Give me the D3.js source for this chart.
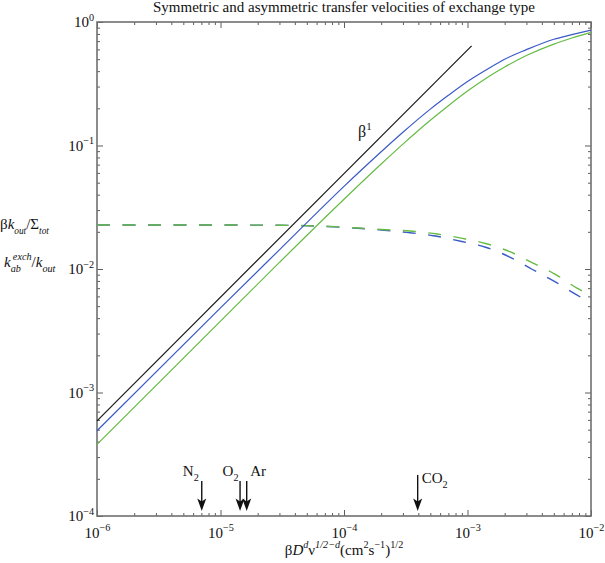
<!DOCTYPE html>
<html>
<head>
<meta charset="utf-8">
<script src="https://cdn.jsdelivr.net/npm/d3@7"></script>
<style>
  body { margin: 0; background: #fff; }
  svg { font-family: "Liberation Serif", "DejaVu Serif", serif; }
</style>
</head>
<body>
<svg id="chart" width="605" height="563"></svg>
<script>
// values (x: beta D^d nu^(1/2-d), y: transfer velocity ratio)
var beta1 = [[1e-6, 5.9e-4], [1.08e-3, 0.64]];

var blueSolid = [
  [1e-6, 4.9e-4], [1e-5, 4.85e-3], [3e-5, 0.0143], [1e-4, 0.0467], [2e-4, 0.089],
  [3e-4, 0.128], [5e-4, 0.197], [7e-4, 0.255], [1e-3, 0.33], [1.5e-3, 0.424],
  [2e-3, 0.50], [3e-3, 0.597], [5e-3, 0.725], [7e-3, 0.79], [1e-2, 0.86]
];
var greenSolid = [
  [1e-6, 3.8e-4], [1e-5, 3.78e-3], [3e-5, 0.0113], [1e-4, 0.0367], [2e-4, 0.0708],
  [3e-4, 0.1026], [5e-4, 0.16], [7e-4, 0.21], [1e-3, 0.276], [1.5e-3, 0.364],
  [2e-3, 0.432], [3e-3, 0.535], [5e-3, 0.662], [7e-3, 0.742], [1e-2, 0.825]
];
var blueDashed = [
  [1e-6, 0.0227], [1e-5, 0.0227], [3e-5, 0.0226], [7e-5, 0.0221], [1.2e-4, 0.0215],
  [2e-4, 0.0207], [3.2e-4, 0.0198], [5.3e-4, 0.0186], [9e-4, 0.0167], [1.4e-3, 0.0150],
  [2.2e-3, 0.0125], [3.3e-3, 0.0100], [5.1e-3, 0.0079], [7.6e-3, 0.0062], [1e-2, 0.0053]
];
var greenDashed = [
  [1e-6, 0.0227], [1e-5, 0.0227], [3e-5, 0.0226], [7e-5, 0.0222], [1.2e-4, 0.0216],
  [2e-4, 0.0209], [3.4e-4, 0.0203], [5.7e-4, 0.0192], [9.1e-4, 0.0177], [1.4e-3, 0.0161],
  [2.2e-3, 0.0138], [3.3e-3, 0.0113], [5.1e-3, 0.0091], [7.7e-3, 0.0070], [1e-2, 0.0061]
];

// gases marked with arrows on the x axis
var gasNames = ['N2', 'O2', 'Ar', 'CO2'];
var gasValues = [7.05e-6, 1.44e-5, 1.63e-5, 3.95e-4];

var xTickExps = [-6, -5, -4, -3, -2];
var yTickExps = [-4, -3, -2, -1, 0];

// layout
var margin = {top: 22, left: 97};
var size = 494;

var svg = d3.select('#chart');
svg.append('rect').attr('width', 605).attr('height', 563).attr('fill', '#fff');

var x = d3.scaleLog().domain([1e-6, 1e-2]).range([margin.left, margin.left + size]);
var y = d3.scaleLog().domain([1e-4, 1]).range([margin.top + size, margin.top]);

var majorX = xTickExps.map(function(e) { return Math.pow(10, e); });
var majorY = yTickExps.map(function(e) { return Math.pow(10, e); });
function minors(lo, hi) {
  var out = [];
  for (var e = lo; e < hi; e++) {
    for (var k = 2; k <= 9; k++) out.push(k * Math.pow(10, e));
  }
  return out;
}
var minorX = minors(-6, -2);
var minorY = minors(-4, 0);

// text with sub/superscripts; parts = [text, 'n'|'sub'|'sup', italic, dx]
// (no dy on a tspan unless it moves, so the parent's dy still applies)
function rich(sel, parts, fs, small) {
  var base = 0;
  small = small || 0.68;
  sel.attr('font-size', fs);
  parts.forEach(function(p) {
    var shift = p[1] === 'sup' ? -0.45 * fs : (p[1] === 'sub' ? 0.32 * fs : 0);
    sel.append('tspan')
      .attr('dy', shift - base !== 0 ? shift - base : null)
      .attr('dx', p[3] || null)
      .attr('font-size', p[1] === 'n' ? fs : fs * small)
      .attr('font-style', p[2] ? 'italic' : null)
      .text(p[0]);
    base = shift;
  });
}

function drawAxis(axis, transform) {
  var g = svg.append('g').attr('transform', transform).call(axis);
  g.select('.domain').remove();
  g.selectAll('.tick line').attr('stroke', '#333').attr('stroke-width', 0.8);
  return g;
}

// minor ticks (inward) on all four sides
drawAxis(d3.axisBottom(x).tickValues(minorX).tickSize(-3).tickFormat(''), 'translate(0,' + (margin.top + size) + ')');
drawAxis(d3.axisTop(x).tickValues(minorX).tickSize(-3).tickFormat(''), 'translate(0,' + margin.top + ')');
drawAxis(d3.axisLeft(y).tickValues(minorY).tickSize(-3).tickFormat(''), 'translate(' + margin.left + ',0)');
drawAxis(d3.axisRight(y).tickValues(minorY).tickSize(-3).tickFormat(''), 'translate(' + (margin.left + size) + ',0)');

// major ticks
var gx = drawAxis(d3.axisBottom(x).tickValues(majorX).tickSize(-6).tickPadding(11), 'translate(0,' + (margin.top + size) + ')');
drawAxis(d3.axisTop(x).tickValues(majorX).tickSize(-6).tickFormat(''), 'translate(0,' + margin.top + ')');
var gy = drawAxis(d3.axisLeft(y).tickValues(majorY).tickSize(-6).tickPadding(3), 'translate(' + margin.left + ',0)');
drawAxis(d3.axisRight(y).tickValues(majorY).tickSize(-6).tickFormat(''), 'translate(' + (margin.left + size) + ',0)');

function powerLabels(g) {
  g.attr('font-family', '"Liberation Serif", serif').attr('font-size', 15);
  g.selectAll('.tick text')
    .attr('fill', '#111')
    .each(function(d) {
      var t = d3.select(this).text('');
      var e = Math.round(Math.log10(d));
      rich(t, [['10', 'n'], [e < 0 ? '\u2212' + (-e) : String(e), 'sup']], 15);
    });
}
powerLabels(gx);
powerLabels(gy);

// frame
svg.append('rect')
  .attr('x', margin.left).attr('y', margin.top)
  .attr('width', size).attr('height', size)
  .attr('fill', 'none').attr('stroke', '#707070').attr('stroke-width', 1.6);

// curves
var line = d3.line()
  .x(function(d) { return x(d[0]); })
  .y(function(d) { return y(d[1]); })
  .curve(d3.curveMonotoneX);

var plot = svg.append('g');
function curve(data, color, dashed) {
  plot.append('path')
    .datum(data)
    .attr('d', line)
    .attr('fill', 'none')
    .attr('stroke', color)
    .attr('stroke-width', dashed ? 1.4 : 1.2)
    .attr('stroke-dasharray', dashed ? '13,12.5' : null);
}
curve(blueDashed, '#3a5ac6', true);
curve(greenDashed, '#66bb44', true);
curve(beta1, '#1a1a1a', false);
curve(blueSolid, '#3a5ac6', false);
curve(greenSolid, '#66bb44', false);

// beta^1 label
var bl = svg.append('text').attr('x', 358).attr('y', 137).attr('fill', '#111');
rich(bl, [['\u03b2', 'n'], ['1', 'sup']], 16);

// arrows for gases
var arrowTip = 1.1e-4, arrowTop = 1.92e-4, co2Top = 2.15e-4;
var arrows = svg.append('g');
gasNames.forEach(function(name, i) {
  var ax = x(gasValues[i]);
  var top = y(name === 'CO2' ? co2Top : arrowTop);
  var tip = y(arrowTip);
  arrows.append('line')
    .attr('x1', ax).attr('x2', ax).attr('y1', top).attr('y2', tip - 8)
    .attr('stroke', '#111').attr('stroke-width', 1.4);
  arrows.append('path')
    .attr('d', 'M' + ax + ',' + tip + 'l-4.5,-12.5l4.5,3l4.5,-3z')
    .attr('fill', '#111');
});

function gasLabel(name, lx, ly, anchor) {
  var t = svg.append('text').attr('x', lx).attr('y', ly)
    .attr('text-anchor', anchor).attr('fill', '#111');
  var sym = name.replace(/\d/g, '');
  var num = name.replace(/\D/g, '');
  var parts = [[sym, 'n']];
  if (num) parts.push([num, 'sub']);
  rich(t, parts, 15);
}
gasLabel('N2', x(gasValues[0]) - 3, 476, 'end');
gasLabel('O2', x(gasValues[1]) - 1.5, 476, 'end');
gasLabel('Ar', x(gasValues[2]) + 3.5, 476, 'start');
gasLabel('CO2', x(gasValues[3]) + 4, 483, 'start');

// title
svg.append('text')
  .attr('x', margin.left + size / 2).attr('y', 12)
  .attr('text-anchor', 'middle').attr('font-size', 15).attr('fill', '#111')
  .text('Symmetric and asymmetric transfer velocities of exchange type');

// x label
var xl = svg.append('text')
  .attr('x', margin.left + size / 2).attr('y', 555)
  .attr('text-anchor', 'middle').attr('fill', '#111');
rich(xl, [
  ['\u03b2', 'n'], ['D', 'n', true], ['d', 'sup', true], ['\u03bd', 'n'], ['1/2\u2212d', 'sup', true],
  ['(cm', 'n'], ['2', 'sup'], ['s', 'n'], ['\u22121', 'sup'], [')', 'n'], ['1/2', 'sup']
], 15);

// y label (two lines)
var yl1 = svg.append('text').attr('x', 0).attr('y', 229).attr('fill', '#111');
rich(yl1, [['\u03b2', 'n'], ['k', 'n', true], ['out', 'sub', true], ['/\u03a3', 'n'], ['tot', 'sub', true]], 15, 0.62);
var yl2 = svg.append('text').attr('x', 4).attr('y', 267).attr('fill', '#111');
rich(yl2, [['k', 'n', true], ['ab', 'sub', true], ['exch', 'sup', true, -8], ['/', 'n'], ['k', 'n', true], ['out', 'sub', true]], 15);
</script>
</body>
</html>
